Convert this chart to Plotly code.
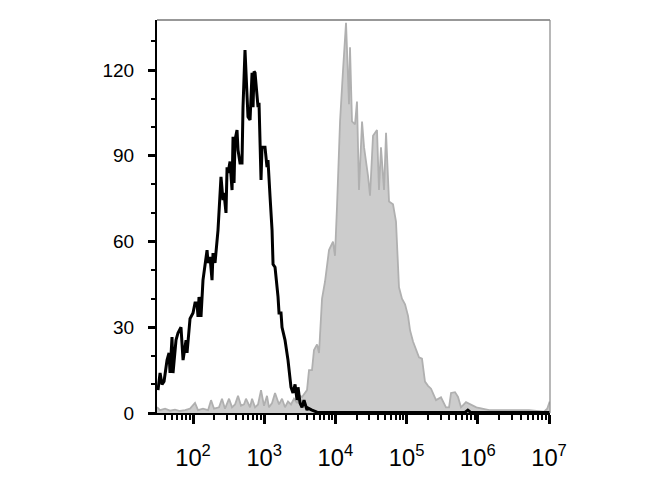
import numpy as np
import plotly.graph_objects as go

# Control (black outline) histogram: log10 fluorescence, counts
ctrl_log = [1.508, 1.537, 1.565, 1.593, 1.635, 1.663, 1.677, 1.705, 1.719, 1.761,
            1.789, 1.831, 1.860, 1.902, 1.916, 1.958, 2.000, 2.028, 2.056, 2.070,
            2.084, 2.112, 2.140, 2.169, 2.197, 2.211, 2.239, 2.267, 2.281, 2.309,
            2.337, 2.351, 2.393, 2.421, 2.435, 2.463, 2.478, 2.492, 2.520, 2.548,
            2.562, 2.576, 2.590, 2.618, 2.632, 2.660, 2.688, 2.702, 2.730, 2.758,
            2.772, 2.801, 2.829, 2.843, 2.857, 2.871, 2.899, 2.913, 2.927, 2.955,
            2.969, 3.011, 3.039, 3.053, 3.081, 3.110, 3.124, 3.152, 3.194, 3.208,
            3.236, 3.250, 3.292, 3.334, 3.376, 3.404, 3.433, 3.461, 3.475, 3.503,
            3.531, 3.559, 3.601, 3.615, 3.671, 3.742, 4.5, 5.5, 5.82, 5.86, 5.9, 6.5, 7.01]
ctrl_cnt = [8, 14, 10, 11, 18.5, 21, 14, 26.6, 14, 25.5,
            28, 30, 18.5, 25.5, 21, 33, 35, 38.5, 38.5, 33.6,
            40.6, 33.6, 46.5, 52.5, 57, 52.5, 54.6, 46.5, 56, 52.5,
            61, 64, 82.6, 74.5, 77, 70, 86, 84, 88, 78,
            96.6, 80.5, 95.5, 99, 92, 87.5, 87.5, 107, 127, 114,
            103.6, 102.5, 119, 107, 119.5, 119, 112, 107, 108.5, 81.5,
            93, 93, 86, 88.5, 76, 64, 52, 51, 40.6, 35,
            35, 30, 25.5, 18.5, 9, 7, 10, 4.5, 9, 3.5,
            2, 4.5, 1, 1.7, 1, 0.3, 0.2, 0.2, 0.2, 1.0, 0.2, 0.2, 0.2]

# Stained sample (grey filled) histogram: log10 fluorescence, counts
stain_log = [1.494, 1.537, 1.607, 1.677, 1.747, 1.817, 1.888, 1.958, 2.028, 2.070,
             2.140, 2.211, 2.253, 2.295, 2.365, 2.407, 2.449, 2.506, 2.548, 2.590,
             2.632, 2.674, 2.716, 2.744, 2.801, 2.829, 2.871, 2.913, 2.955, 2.997,
             3.039, 3.067, 3.110, 3.152, 3.208, 3.250, 3.292, 3.334, 3.376, 3.418,
             3.461, 3.503, 3.531, 3.573, 3.601, 3.629, 3.671, 3.699, 3.742, 3.770,
             3.812, 3.854, 3.910, 3.966, 3.994, 4.022, 4.065, 4.107, 4.149, 4.191,
             4.205, 4.233, 4.275, 4.303, 4.331, 4.374, 4.402, 4.458, 4.486, 4.528,
             4.584, 4.612, 4.640, 4.683, 4.711, 4.753, 4.809, 4.851, 4.893, 4.935,
             4.978, 5.020, 5.048, 5.090, 5.133, 5.174, 5.216, 5.258, 5.301, 5.343,
             5.413, 5.483, 5.553, 5.596, 5.624, 5.680, 5.722, 5.764, 5.834, 5.980,
             6.160, 6.720, 6.930, 6.975, 7.010]
stain_cnt = [2, 1, 1.5, 0.8, 1.2, 0.7, 1, 1.5, 3.5, 1,
             1.5, 1, 4.5, 1.5, 2, 5, 1.5, 5, 2, 3,
             6, 2.5, 3, 5, 2, 5, 2, 3, 8, 2.5,
             6, 2, 3.5, 7, 3, 5, 2, 4, 3, 5,
             3.5, 6, 5.6, 7, 8, 15, 15, 22, 24, 21,
             40, 46, 57, 60, 55, 72, 102, 120, 136.5, 108,
             128, 102, 101, 109, 78, 102, 93, 83, 76, 97,
             99, 78, 93, 78, 98, 74, 73, 67, 44, 40,
             38, 34, 29, 25, 22, 19.5, 19, 11, 9.5, 8.5,
             4.5, 5.5, 2, 2, 7, 7.3, 5.6, 2, 3.8, 2,
             1, 1, 0.5, 1.5, 4]

ctrl_x = [10 ** v for v in ctrl_log]
stain_x = [10 ** v for v in stain_log]

fig = go.Figure()
fig.add_trace(go.Scatter(
    x=stain_x, y=stain_cnt, mode="lines", fill="tozeroy",
    fillcolor="#cccccc", line=dict(color="#b0b0b0", width=1.8),
    hoverinfo="skip", showlegend=False))
fig.add_trace(go.Scatter(
    x=ctrl_x, y=ctrl_cnt, mode="lines",
    line=dict(color="black", width=3),
    hoverinfo="skip", showlegend=False))

font = dict(family="Liberation Sans, Arial, sans-serif", size=19, color="black")

fig.update_layout(
    width=670, height=500,
    margin=dict(l=149, r=128, t=12, b=95),
    paper_bgcolor="white", plot_bgcolor="white",
    font=font,
    xaxis=dict(
        type="log", range=[1.494, 7.014], dtick=1, tick0=0,
        exponentformat="power", showexponent="all",
        showgrid=False, zeroline=False,
        showline=True, linecolor="black", linewidth=2,
        ticks="outside", ticklen=9, tickwidth=3, tickcolor="black",
        ticklabelstandoff=14,
        minor=dict(ticks="outside", ticklen=5, tickwidth=1.5,
                   tickcolor="black", dtick="D1", showgrid=False),
        tickfont=font,
    ),
    yaxis=dict(
        range=[0, 137.5], dtick=30, tick0=0,
        showgrid=False, zeroline=False,
        showline=True, linecolor="black", linewidth=2,
        ticks="outside", ticklen=7, tickwidth=3, tickcolor="black",
        ticklabelstandoff=10,
        minor=dict(ticks="outside", ticklen=4, tickwidth=1.5,
                   tickcolor="black", dtick=10, showgrid=False),
        tickfont=font,
    ),
    shapes=[
        dict(type="line", xref="paper", yref="paper", x0=0, x1=1, y0=1, y1=1,
             line=dict(color="#333333", width=1.2)),
        dict(type="line", xref="paper", yref="paper", x0=1, x1=1, y0=0, y1=1,
             line=dict(color="#888888", width=1.2)),
    ],
)

fig.write_html("out.html")
